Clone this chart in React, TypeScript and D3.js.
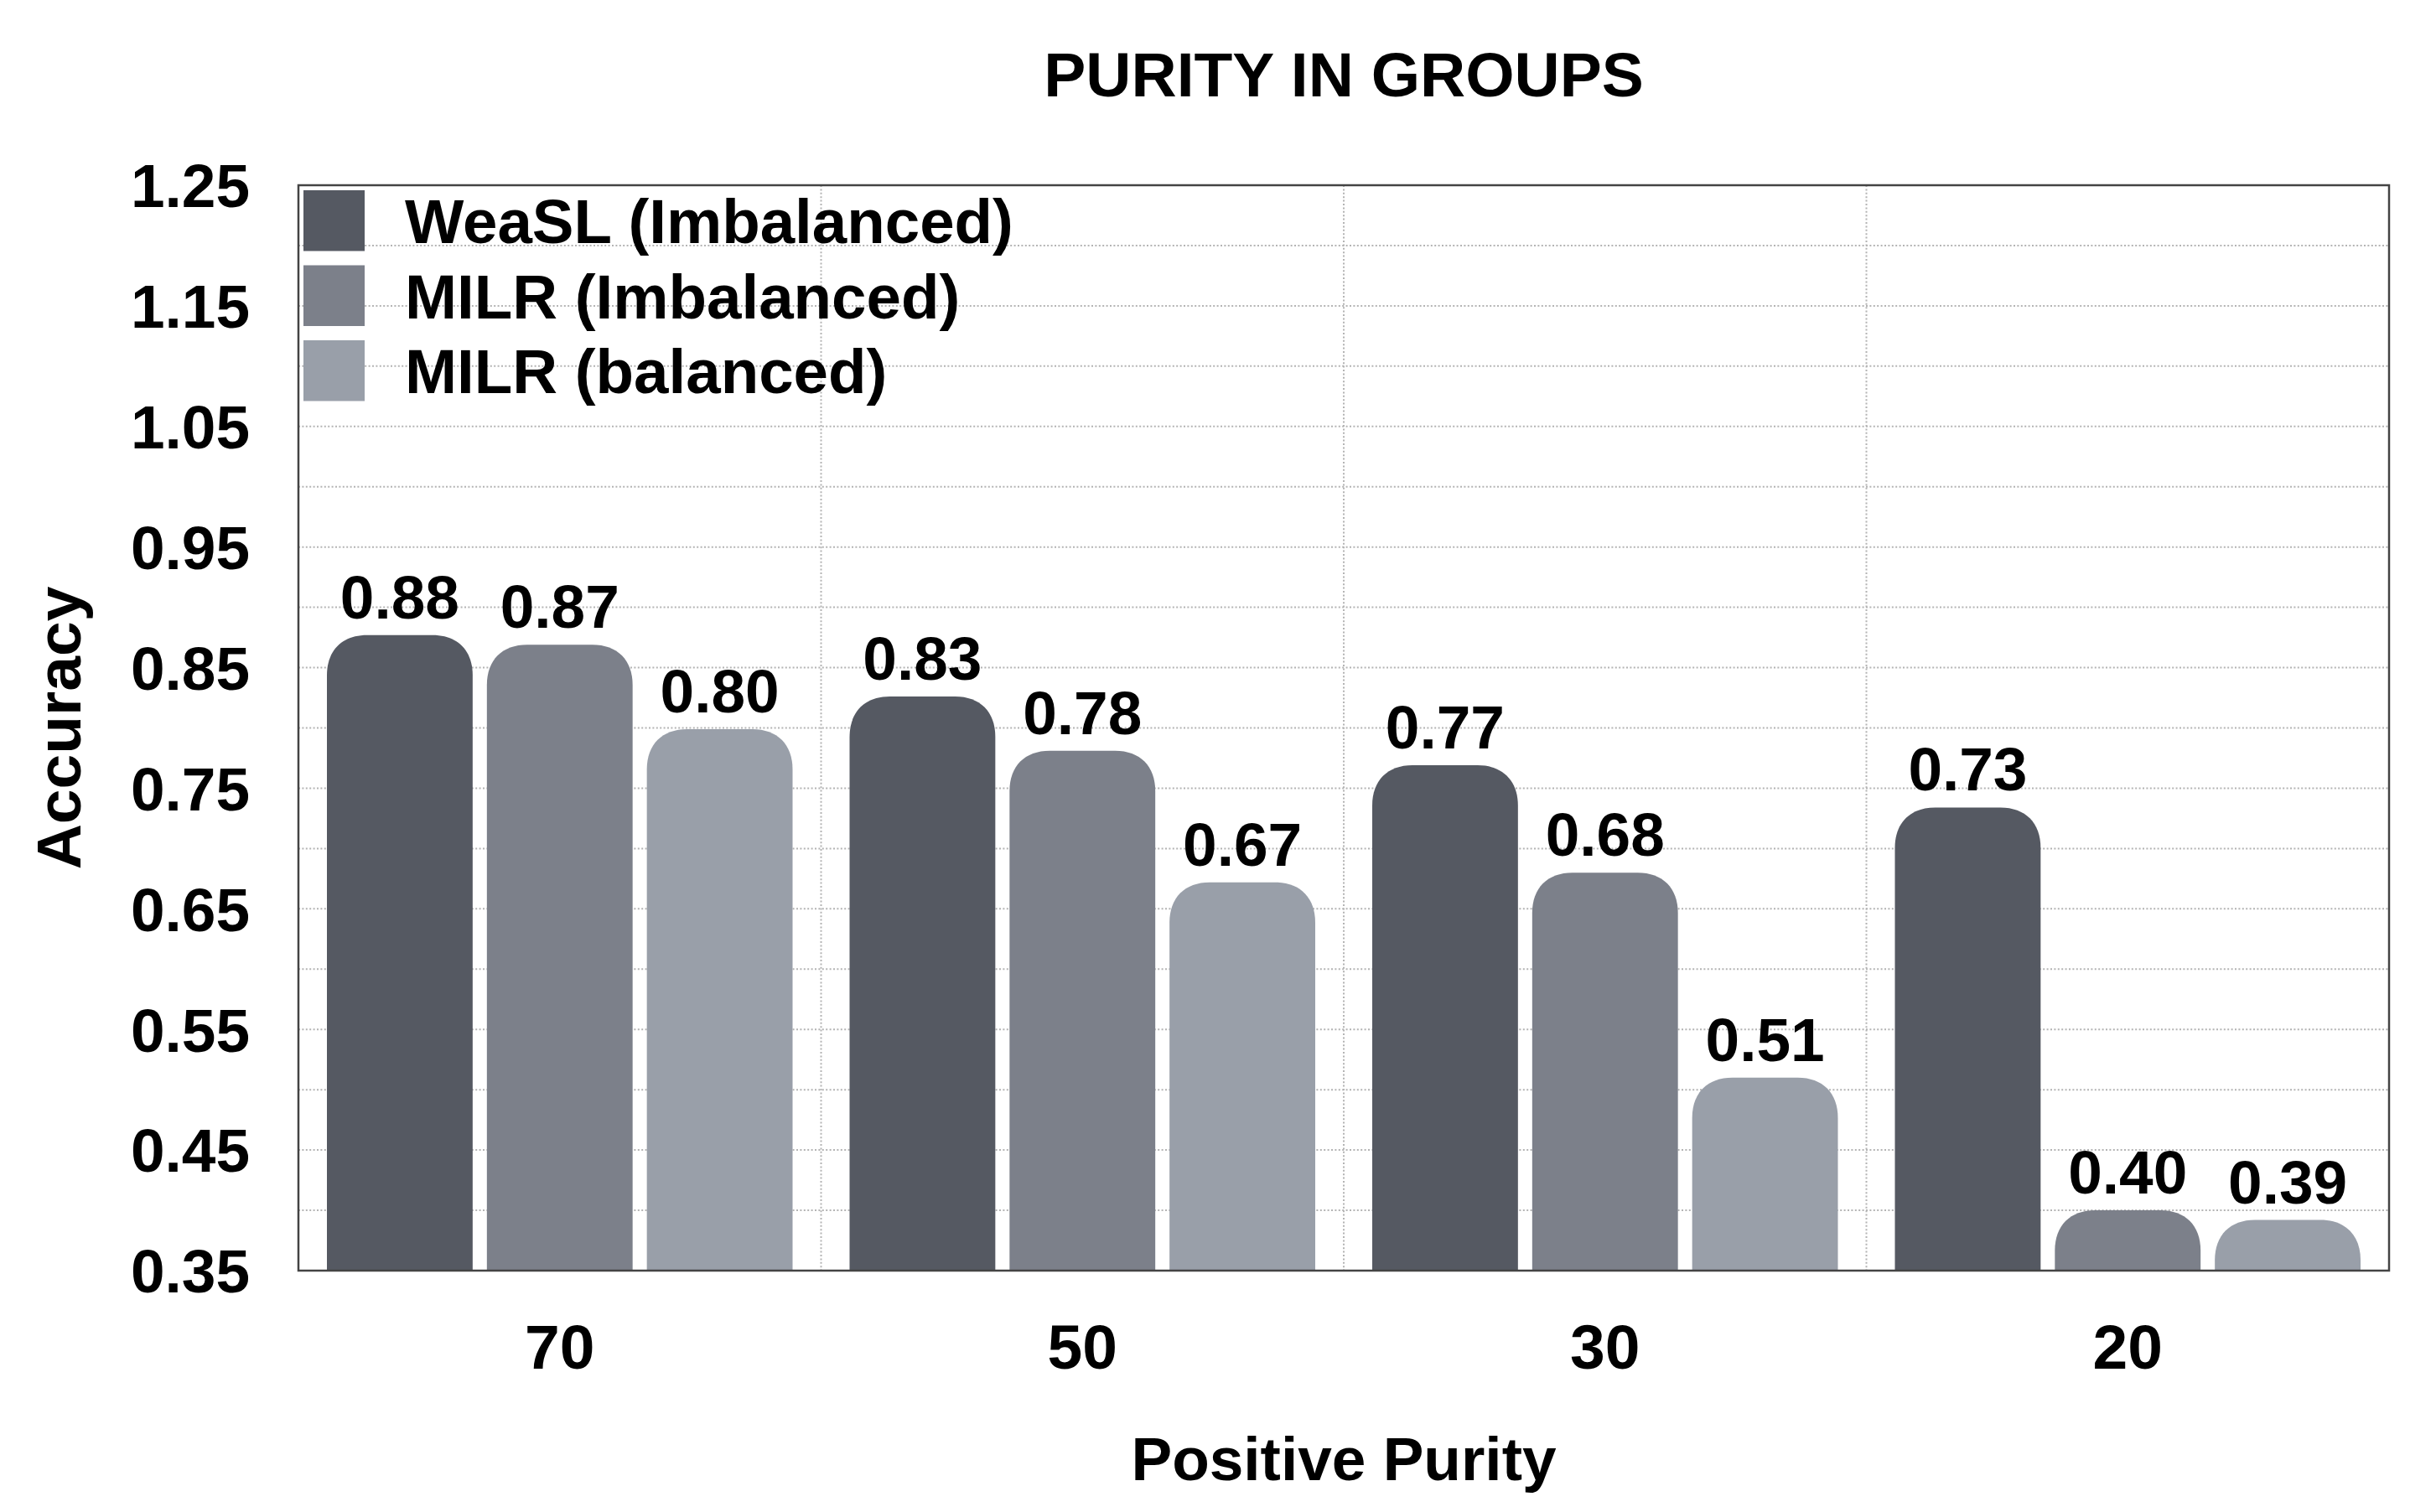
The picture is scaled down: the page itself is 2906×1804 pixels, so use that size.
import React from "react";
import * as d3 from "d3";

const categories = ["70", "50", "30", "20"];
const seriesNames = ["WeaSL (Imbalanced)", "MILR (Imbalanced)", "MILR (balanced)"];
const weaslImb = [0.877, 0.826, 0.769, 0.734];
const milrImb = [0.869, 0.781, 0.68, 0.4];
const milrBal = [0.799, 0.672, 0.51, 0.392];
const seriesValues = [weaslImb, milrImb, milrBal];
const seriesColors = ["#555962", "#7c808a", "#999fa9"];
const yTicks = [0.35, 0.45, 0.55, 0.65, 0.75, 0.85, 0.95, 1.05, 1.15, 1.25];
const yGrid = d3.range(0.4, 1.2001, 0.05);

const W = 2906;
const H = 1804;
const left = 356;
const right = 2850;
const top = 221;
const bottom = 1516;
const FONT = "'Liberation Sans', Arial, Helvetica, sans-serif";

function topRounded(x: number, y: number, w: number, h: number, r: number) {
  const rr = Math.min(r, w / 2, h);
  const k = 0.62; // squircle-like corner
  const p = d3.path();
  p.moveTo(x, y + h);
  p.lineTo(x, y + rr);
  p.bezierCurveTo(x, y + rr * (1 - k), x + rr * (1 - k), y, x + rr, y);
  p.lineTo(x + w - rr, y);
  p.bezierCurveTo(x + w - rr * (1 - k), y, x + w, y + rr * (1 - k), x + w, y + rr);
  p.lineTo(x + w, y + h);
  p.closePath();
  return p.toString();
}

export default function App() {
  const x0 = d3.scaleBand<string>().domain(categories).range([left, right]).padding(0);
  const gw = x0.bandwidth();
  const x1 = d3
    .scaleBand<number>()
    .domain([0, 1, 2])
    .range([34, gw - 34])
    .paddingInner(17 / 191)
    .paddingOuter(0);
  const y = d3.scaleLinear().domain([0.35, 1.25]).range([bottom, top]);

  return (
    <svg
      width={W}
      height={H}
      viewBox={`0 0 ${W} ${H}`}
      style={{ position: "absolute", left: 0, top: 0, background: "#fff" }}
      fontFamily={FONT}
      fontWeight="bold"
    >
      <rect x={0} y={0} width={W} height={H} fill="#fff" />
      {/* grid */}
      {yGrid.map((v, i) => (
        <line
          key={"hg" + i}
          x1={left}
          x2={right}
          y1={y(v)}
          y2={y(v)}
          stroke="#b4b4b4"
          strokeWidth={2}
          strokeDasharray="2 2.4"
        />
      ))}
      {categories.slice(1).map((c) => (
        <line
          key={"vg" + c}
          x1={x0(c)!}
          x2={x0(c)!}
          y1={top}
          y2={bottom}
          stroke="#b4b4b4"
          strokeWidth={2}
          strokeDasharray="2 2.4"
        />
      ))}
      {/* bars */}
      {categories.map((c, ci) =>
        seriesValues.map((vals, si) => {
          const bx = x0(c)! + x1(si)!;
          const bw = x1.bandwidth();
          const by = y(vals[ci]);
          return (
            <g key={c + "-" + si}>
              <path d={topRounded(bx, by, bw, bottom - by, 48)} fill={seriesColors[si]} />
              <text
                x={bx + bw / 2}
                y={by - 20}
                textAnchor="middle"
                fontSize={73}
                fill="#000"
              >
                {d3.format(".2f")(vals[ci])}
              </text>
            </g>
          );
        })
      )}
      {/* frame */}
      <rect
        x={left}
        y={top}
        width={right - left}
        height={bottom - top}
        fill="none"
        stroke="#444"
        strokeWidth={2.5}
      />
      {/* y ticks */}
      {yTicks.map((v) => (
        <text
          key={"yt" + v}
          x={298}
          y={y(v)}
          dy="0.36em"
          textAnchor="end"
          fontSize={73}
          fill="#000"
        >
          {d3.format(".2f")(v)}
        </text>
      ))}
      {/* x ticks */}
      {categories.map((c) => (
        <text
          key={"xt" + c}
          x={x0(c)! + gw / 2}
          y={1633}
          textAnchor="middle"
          fontSize={75}
          fill="#000"
        >
          {c}
        </text>
      ))}
      {/* legend */}
      {seriesNames.map((n, i) => (
        <g key={"lg" + i}>
          <rect x={362} y={227 + i * 89.5} width={73} height={72.5} fill={seriesColors[i]} />
          <text x={483} y={290 + i * 89.5} fontSize={74.5} fill="#000">
            {n}
          </text>
        </g>
      ))}
      {/* titles */}
      <text x={(left + right) / 2} y={115} textAnchor="middle" fontSize={75} fill="#000">
        PURITY IN GROUPS
      </text>
      <text x={(left + right) / 2} y={1766} textAnchor="middle" fontSize={73} fill="#000">
        Positive Purity
      </text>
      <text
        transform={`translate(96, ${(top + bottom) / 2}) rotate(-90)`}
        textAnchor="middle"
        fontSize={75}
        fill="#000"
      >
        Accuracy
      </text>
    </svg>
  );
}
